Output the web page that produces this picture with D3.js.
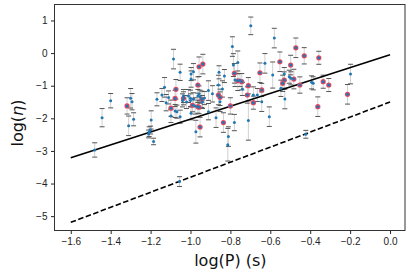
<!DOCTYPE html>
<html>
<head>
<meta charset="utf-8">
<script src="https://cdn.jsdelivr.net/npm/d3@7"></script>
<style>
body{margin:0;background:#fff;}
svg{font-family:"DejaVu Sans",sans-serif;}
.axis text{font-size:10px;fill:#222;}
.axis path{stroke:#333;}
.axis line{stroke:#222;}
</style>
</head>
<body>
<div id="plot"></div>
<script>
//Data: log(P), log(eta), error half-width
var bluePts = [
	[-1.48,-2.97,0.22],[-1.443,-1.98,0.28],[-1.40,-1.46,0.22],[-1.31,-2.23,0.3],
	[-1.30,-1.386,0.3],[-1.293,-1.49,0.25],[-1.285,-2.03,0.2],[-1.207,-2.41,0.15],
	[-1.21,-2.48,0.12],[-1.20,-2.36,0.12],[-1.185,-2.71,0.1],[-1.197,-2.05,0.28],
	[-1.168,-1.417,0.2],[-1.143,-1.285,0.2],[-1.13,-1.05,0.3],[-1.122,-1.52,0.25],
	[-1.098,-1.93,0.2],[-1.085,-0.184,0.3],[-1.052,-0.59,0.25],[-1.077,-1.775,0.2],
	[-1.052,-1.95,0.2],[-1.068,-1.796,0.2],[-1.055,-3.94,0.15],[-1.035,-1.316,0.2],
	[-1.01,-1.316,0.2],[-1.0,-1.386,0.25],[-0.985,-1.417,0.2],[-0.985,-0.572,0.25],
	[-0.997,-0.643,0.2],[-0.997,-0.796,0.25],[-0.997,-1.845,0.2],[-0.973,-2.41,0.35],
	[-0.977,-1.62,0.25],[-0.957,-1.255,0.25],[-0.963,-1.316,0.2],[-0.952,-1.337,0.2],
	[-1.0,-1.45,0.2],[-0.91,-1.15,0.3],[-0.91,-1.796,0.25],[-0.872,-1.98,0.3],
	[-0.86,-0.979,0.3],[-0.857,-0.59,0.2],[-0.852,-1.49,0.3],[-0.83,-0.704,0.2],
	[-0.813,-2.81,0.5],[-0.81,-2.56,0.3],[-0.79,0.2,0.3],[-0.785,-0.367,0.35],
	[-0.763,-0.285,0.35],[-0.777,-0.826,0.2],[-0.752,-0.826,0.2],[-0.78,-2.13,0.25],
	[-0.698,0.835,0.27],[-0.685,-1.285,0.25],[-0.665,-1.285,0.2],[-0.71,-2.07,0.6],
	[-0.643,-1.49,0.3],[-0.627,-0.315,0.3],[-0.605,-1.95,0.3],[-0.588,-0.673,0.4],
	[-0.58,0.46,0.3],[-0.53,-0.643,0.2],[-0.505,-0.725,0.2],[-0.497,-0.774,0.2],
	[-0.547,-1.08,0.25],[-0.527,-1.408,0.3],[-0.393,-0.897,0.2],[-0.385,-0.927,0.2],
	[-0.198,-0.643,0.3],[-0.422,-2.49,0.12],
	[-1.04,-1.45,0.2],[-1.02,-1.50,0.2],[-0.94,-1.50,0.2],[-0.93,-1.38,0.2],
	[-1.11,-1.36,0.2],[-0.89,-1.25,0.25],[-0.84,-1.10,0.25],[-0.74,-1.10,0.2]
];
var redPts = [
	[-1.318,-1.62,0.25],[-1.098,-1.69,0.25],[-1.073,-1.11,0.3],[-1.077,-1.39,0.25],
	[-1.035,-1.386,0.2],[-0.938,-0.337,0.3],[-0.957,-0.419,0.3],[-0.963,-0.979,0.25],
	[-0.943,-1.417,0.25],[-0.963,-1.643,0.2],[-0.957,-1.66,0.2],[-0.99,-1.60,0.2],
	[-0.952,-2.27,0.3],[-0.86,-1.285,0.3],[-0.852,-1.356,0.25],[-0.835,-2.13,0.3],
	[-0.80,-1.62,0.25],[-0.78,-0.621,0.3],[-0.763,-0.848,0.3],[-0.743,-0.878,0.25],
	[-0.71,-1.0,0.25],[-0.715,-1.285,0.25],[-0.685,-1.52,0.2],[-0.652,-0.603,0.3],
	[-0.643,-1.13,0.2],[-0.552,-0.266,0.3],[-0.498,-0.367,0.3],[-0.472,0.162,0.3],
	[-0.43,-0.083,0.25],[-0.357,-0.144,0.2],[-0.482,-0.796,0.3],[-0.53,-0.826,0.25],
	[-0.538,-0.927,0.25],[-0.452,-0.979,0.25],[-0.335,-0.878,0.2],[-0.307,-0.979,0.2],
	[-0.213,-1.264,0.3],[-0.362,-1.643,0.3]
];
var fitSolid = [[-1.6,-3.21],[0.0,-0.05]];
var fitDashed = [[-1.6,-5.19],[0.0,-1.5]];
var xTicks = [-1.6,-1.4,-1.2,-1.0,-0.8,-0.6,-0.4,-0.2,0.0];
var yTicks = [-5,-4,-3,-2,-1,0,1];

var W = 415, H = 272;
var m = {t:4.5,r:10,b:41.5,l:54.5},
	w = W - m.l - m.r,
	h = H - m.t - m.b;

var svg = d3.select('#plot').append('svg')
	.attr('width',W).attr('height',H);
var plot = svg.append('g')
	.attr('transform','translate('+m.l+','+m.t+')');

var scaleX = d3.scaleLinear().domain([-1.6815,0.075]).range([0,w]),
	scaleY = d3.scaleLinear().domain([-5.44,1.49]).range([h,0]);

//axes
var xAxis = d3.axisBottom(scaleX).tickValues(xTicks).tickSize(3.5).tickPadding(3.5)
	.tickFormat(d3.format('.1f'));
var yAxis = d3.axisLeft(scaleY).tickValues(yTicks).tickSize(3.5).tickPadding(3.5)
	.tickFormat(d3.format('d'));
plot.append('g').attr('class','axis axis-x')
	.attr('transform','translate(0,'+h+')')
	.call(xAxis);
plot.append('g').attr('class','axis axis-y')
	.call(yAxis);
plot.selectAll('.axis .domain').remove();

//error bars
var allPts = bluePts.map(function(d){return {x:d[0],y:d[1],e:d[2],red:false}})
	.concat(redPts.map(function(d){return {x:d[0],y:d[1],e:d[2],red:true}}));

var bars = plot.append('g').attr('class','errbars');
bars.selectAll('.eb')
	.data(allPts).enter()
	.append('line').attr('class','eb')
	.attr('x1',function(d){return scaleX(d.x)})
	.attr('x2',function(d){return scaleX(d.x)})
	.attr('y1',function(d){return scaleY(d.y-d.e)})
	.attr('y2',function(d){return scaleY(d.y+d.e)})
	.style('stroke','#d0d0d0').style('stroke-width',1);
['lo','hi'].forEach(function(k){
	bars.selectAll('.cap-'+k)
		.data(allPts).enter()
		.append('line').attr('class','cap-'+k)
		.attr('x1',function(d){return scaleX(d.x)-2.5})
		.attr('x2',function(d){return scaleX(d.x)+2.5})
		.attr('y1',function(d){return scaleY(k==='lo'?d.y-d.e:d.y+d.e)})
		.attr('y2',function(d){return scaleY(k==='lo'?d.y-d.e:d.y+d.e)})
		.style('stroke','#555').style('stroke-width',1);
});

//fit lines
var line = d3.line()
	.x(function(d){return scaleX(d[0])})
	.y(function(d){return scaleY(d[1])});
plot.append('path').datum(fitSolid)
	.attr('d',line)
	.style('fill','none').style('stroke','#000').style('stroke-width',1.6);
plot.append('path').datum(fitDashed)
	.attr('d',line)
	.style('fill','none').style('stroke','#000').style('stroke-width',1.6)
	.style('stroke-dasharray','5.5,2.5');

//points
plot.selectAll('.red')
	.data(allPts.filter(function(d){return d.red})).enter()
	.append('circle').attr('class','red')
	.attr('cx',function(d){return scaleX(d.x)})
	.attr('cy',function(d){return scaleY(d.y)})
	.attr('r',2.6)
	.style('fill','#e8475f');
plot.selectAll('.dot')
	.data(allPts).enter()
	.append('circle').attr('class','dot')
	.attr('cx',function(d){return scaleX(d.x)})
	.attr('cy',function(d){return scaleY(d.y)})
	.attr('r',1.5)
	.style('fill','#1f77b4');

//frame
plot.append('rect')
	.attr('width',w).attr('height',h)
	.style('fill','none').style('stroke','#333').style('stroke-width',1);

//axis labels
svg.append('text')
	.attr('x',m.l+scaleX(-0.8)).attr('y',266)
	.attr('text-anchor','middle')
	.style('font-size','16px').style('fill','#111')
	.text('log(P) (s)');
var yl = svg.append('text')
	.attr('transform','translate(22.5,123) rotate(-90)')
	.attr('text-anchor','middle')
	.style('font-size','16px').style('fill','#111');
yl.append('tspan').text('log(');
yl.append('tspan').style('font-style','italic').text('η');
yl.append('tspan').text(')');
</script>
</body>
</html>
